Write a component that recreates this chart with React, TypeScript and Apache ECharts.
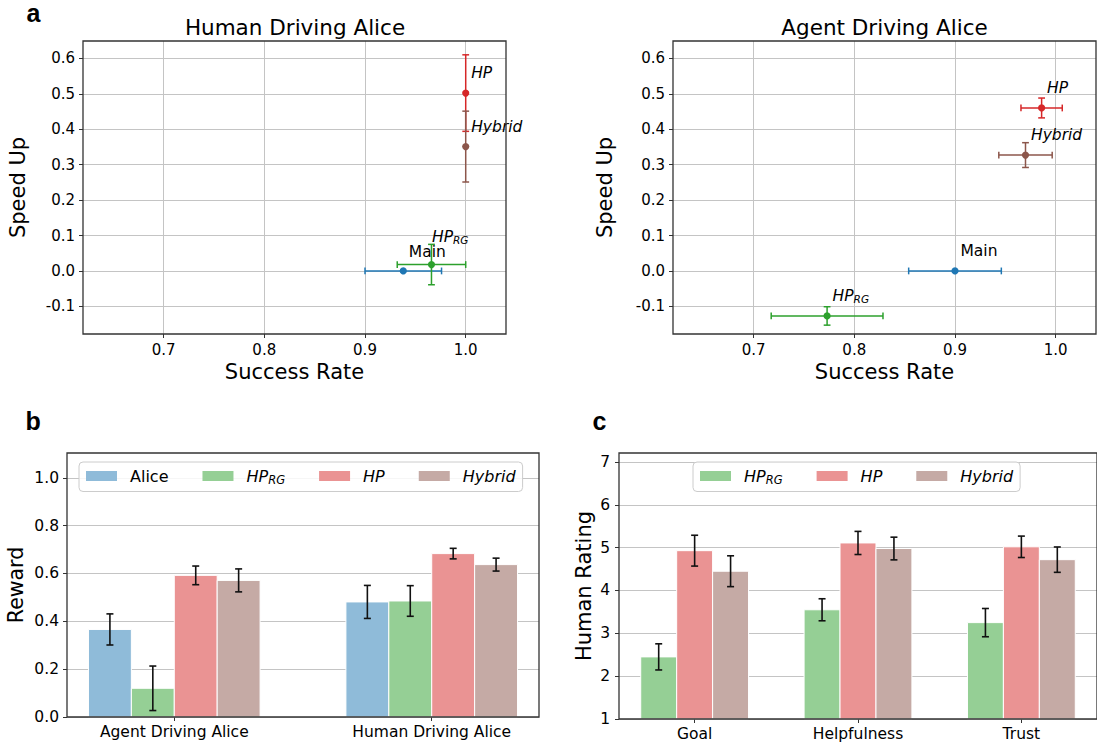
import React, { useEffect, useRef } from 'react';
import * as echarts from 'echarts';

const FONT = "'DejaVu Sans', 'Noto Sans', sans-serif";

// ---------------- data ----------------
// Panel a: success rate vs speed up (order: Main, HP_RG, HP, Hybrid)
const methodNames = ['Main', 'HP_RG', 'HP', 'Hybrid'];
const humanSuccessRate = [0.938, 0.966, 1.0, 1.0];
const humanSuccessRateErr = [0.038, 0.034, 0.0, 0.0];
const humanSpeedUp = [0.0, 0.018, 0.502, 0.351];
const humanSpeedUpErr = [0.0, 0.057, 0.108, 0.1];

const agentSuccessRate = [0.9, 0.773, 0.986, 0.97];
const agentSuccessRateErr = [0.046, 0.0555, 0.0205, 0.0265];
const agentSpeedUp = [0.0, -0.127, 0.46, 0.327];
const agentSpeedUpErr = [0.0, 0.026, 0.028, 0.035];

const successRateTicks = [0.7, 0.8, 0.9, 1.0];
const speedUpTicks = [-0.1, 0.0, 0.1, 0.2, 0.3, 0.4, 0.5, 0.6];

// Panel b: reward
const rewardCategories = ['Agent Driving Alice', 'Human Driving Alice'];
const rewardSeriesNames = ['Alice', 'HP_RG', 'HP', 'Hybrid'];
const rewardAlice = [0.366, 0.481];
const rewardAliceErr = [0.065, 0.069];
const rewardHPRG = [0.12, 0.485];
const rewardHPRGErr = [0.093, 0.064];
const rewardHP = [0.592, 0.683];
const rewardHPErr = [0.039, 0.022];
const rewardHybrid = [0.571, 0.637];
const rewardHybridErr = [0.048, 0.027];
const rewardTicks = [0, 0.2, 0.4, 0.6, 0.8, 1.0];

// Panel c: human rating
const ratingCategories = ['Goal', 'Helpfulness', 'Trust'];
const ratingSeriesNames = ['HP_RG', 'HP', 'Hybrid'];
const ratingHPRG = [2.45, 3.55, 3.25];
const ratingHPRGErr = [0.305, 0.257, 0.33];
const ratingHP = [4.93, 5.11, 5.02];
const ratingHPErr = [0.36, 0.27, 0.25];
const ratingHybrid = [4.45, 4.98, 4.72];
const ratingHybridErr = [0.36, 0.265, 0.296];
const ratingTicks = [1, 2, 3, 4, 5, 6, 7];

// ---------------- styles / layout ----------------
const lineColors: Record<string, string> = {
  Main: '#1f77b4',
  HP_RG: '#2ca02c',
  HP: '#d62728',
  Hybrid: '#8c564b',
};
const barColors: Record<string, string> = {
  Alice: '#8fbbd9',
  HP_RG: '#95cf95',
  HP: '#ea9393',
  Hybrid: '#c5aaa5',
};

const GRIDS = [
  { left: 83, top: 41, width: 423, height: 293 }, // a human
  { left: 673, top: 41, width: 423, height: 293 }, // a agent
  { left: 67, top: 453, width: 472, height: 264 }, // b
  { left: 619, top: 453, width: 478, height: 266 }, // c
];

const FRAME = '#333333';
const GRIDLINE = '#c4c4c4';

const richStyles = (size: number, subRatio = 0.68) => ({
  n: { fontSize: size, fontFamily: FONT, color: '#000' },
  i: { fontSize: size, fontFamily: FONT, fontStyle: 'italic', color: '#000' },
  s: {
    fontSize: size * subRatio,
    fontFamily: FONT,
    fontStyle: 'italic',
    color: '#000',
    padding: [Math.round(size * 0.45), 0, 0, 0],
  },
});

const richName = (name: string) => {
  if (name === 'HP_RG') return '{i|HP}{s|RG}';
  if (name === 'HP' || name === 'Hybrid') return `{i|${name}}`;
  return `{n|${name}}`;
};

const fmt1 = (v: number) => (Math.abs(v) < 1e-9 ? '0.0' : v.toFixed(1));

function valueAxis(gridIndex: number, min: number, max: number, ticks: number[], extra: any) {
  return {
    type: 'value',
    gridIndex,
    min,
    max,
    axisLine: { show: false, onZero: false },
    axisTick: { show: true, customValues: ticks, length: 4, lineStyle: { color: FRAME, width: 1 } },
    axisLabel: {
      customValues: ticks,
      color: '#000',
      fontFamily: FONT,
      fontSize: 15,
      margin: 8,
    },
    splitLine: { show: true, lineStyle: { color: GRIDLINE, width: 1 } },
    nameLocation: 'middle',
    nameTextStyle: { color: '#000', fontFamily: FONT, fontSize: 21 },
    ...extra,
  };
}

function scatterSeries(
  gridIndex: number,
  prefix: string,
  idx: number,
  xs: number[],
  xe: number[],
  ys: number[],
  ye: number[],
  labelOffset: [number, number]
) {
  const name = methodNames[idx];
  const color = lineColors[name];
  return {
    type: 'custom',
    name: `${prefix} ${name}`,
    xAxisIndex: gridIndex,
    yAxisIndex: gridIndex,
    clip: false,
    encode: { x: 0, y: 1 },
    data: [[xs[idx], ys[idx], xe[idx], ye[idx]]],
    renderItem: (_params: any, api: any) => {
      const x = api.value(0) as number;
      const y = api.value(1) as number;
      const ex = api.value(2) as number;
      const ey = api.value(3) as number;
      const c = api.coord([x, y]);
      const cap = 3.4;
      const ls = { stroke: color, lineWidth: 1.5 };
      const children: any[] = [];
      if (ex > 0) {
        const l = api.coord([x - ex, y]);
        const r = api.coord([x + ex, y]);
        children.push({ type: 'line', shape: { x1: l[0], y1: l[1], x2: r[0], y2: r[1] }, style: ls });
        children.push({ type: 'line', shape: { x1: l[0], y1: l[1] - cap, x2: l[0], y2: l[1] + cap }, style: ls });
        children.push({ type: 'line', shape: { x1: r[0], y1: r[1] - cap, x2: r[0], y2: r[1] + cap }, style: ls });
      }
      if (ey > 0) {
        const t = api.coord([x, y + ey]);
        const b = api.coord([x, y - ey]);
        children.push({ type: 'line', shape: { x1: t[0], y1: t[1], x2: b[0], y2: b[1] }, style: ls });
        children.push({ type: 'line', shape: { x1: t[0] - cap, y1: t[1], x2: t[0] + cap, y2: t[1] }, style: ls });
        children.push({ type: 'line', shape: { x1: b[0] - cap, y1: b[1], x2: b[0] + cap, y2: b[1] }, style: ls });
      }
      children.push({ type: 'circle', shape: { cx: c[0], cy: c[1], r: 3.6 }, style: { fill: color } });
      children.push({
        type: 'text',
        x: c[0] + labelOffset[0],
        y: c[1] + labelOffset[1],
        style: {
          text: richName(name),
          rich: richStyles(15.5),
          fontFamily: FONT,
          fontSize: 15.5,
          fill: '#000',
          align: 'left',
          verticalAlign: 'middle',
        },
      });
      return { type: 'group', children };
    },
  };
}

function barSeries(
  gridIndex: number,
  name: string,
  values: number[],
  errs: number[],
  offset: number,
  width: number,
  base: number
) {
  const fill = barColors[name];
  return {
    type: 'custom',
    name,
    xAxisIndex: gridIndex,
    yAxisIndex: gridIndex,
    itemStyle: { color: fill },
    encode: { x: 0, y: 1 },
    data: values.map((v, i) => [i, v, errs[i]]),
    renderItem: (_params: any, api: any) => {
      const cat = api.value(0) as number;
      const v = api.value(1) as number;
      const e = api.value(2) as number;
      const xc = cat + offset;
      const p0 = api.coord([xc - width / 2, base]);
      const p1 = api.coord([xc + width / 2, v]);
      const t = api.coord([xc, v + e]);
      const b = api.coord([xc, v - e]);
      const cap = 3.5;
      const es = { stroke: '#111', lineWidth: 1.6 };
      return {
        type: 'group',
        children: [
          {
            type: 'rect',
            shape: { x: p0[0], y: p1[1], width: p1[0] - p0[0], height: p0[1] - p1[1] },
            style: { fill, stroke: '#ffffff', lineWidth: 1 },
          },
          { type: 'line', shape: { x1: t[0], y1: t[1], x2: b[0], y2: b[1] }, style: es },
          { type: 'line', shape: { x1: t[0] - cap, y1: t[1], x2: t[0] + cap, y2: t[1] }, style: es },
          { type: 'line', shape: { x1: b[0] - cap, y1: b[1], x2: b[0] + cap, y2: b[1] }, style: es },
        ],
      };
    },
  };
}

function legendFor(left: number, names: string[]) {
  return {
    left,
    top: 462,
    orient: 'horizontal',
    selectedMode: false,
    data: names,
    icon: 'rect',
    itemWidth: 31,
    itemHeight: 10,
    itemGap: 34,
    padding: [6, 7, 6, 7],
    backgroundColor: 'rgba(255,255,255,0.85)',
    borderColor: '#cccccc',
    borderWidth: 1,
    borderRadius: 4,
    formatter: (n: string) => richName(n),
    textStyle: {
      color: '#000',
      fontFamily: FONT,
      fontSize: 16,
      padding: [0, 0, 0, 8],
      rich: richStyles(16, 0.72),
    },
  };
}

export default function App() {
  const ref = useRef<HTMLDivElement>(null);

  useEffect(() => {
    if (!ref.current) return;
    const chart = echarts.init(ref.current, undefined, { renderer: 'svg' });

    const xMinA = 0.62;
    const xMaxA = 1.04;
    const yMinA = -0.178;
    const yMaxA = 0.649;

    const rewardW = 1 / 6;
    const ratingW = 0.22;

    const rewardVals = [rewardAlice, rewardHPRG, rewardHP, rewardHybrid];
    const rewardErrs = [rewardAliceErr, rewardHPRGErr, rewardHPErr, rewardHybridErr];
    const ratingVals = [ratingHPRG, ratingHP, ratingHybrid];
    const ratingErrs = [ratingHPRGErr, ratingHPErr, ratingHybridErr];

    const defaultOffset: [number, number] = [5.5, -20];
    const humanOffsets: [number, number][] = [[5.5, -19], [0.5, -28], defaultOffset, defaultOffset];

    const series: any[] = [];
    methodNames.forEach((_, i) => {
      series.push(
        scatterSeries(0, 'Human', i, humanSuccessRate, humanSuccessRateErr, humanSpeedUp, humanSpeedUpErr, humanOffsets[i])
      );
    });
    methodNames.forEach((_, i) => {
      series.push(
        scatterSeries(1, 'Agent', i, agentSuccessRate, agentSuccessRateErr, agentSpeedUp, agentSpeedUpErr, defaultOffset)
      );
    });
    rewardSeriesNames.forEach((n, i) => {
      series.push(barSeries(2, n, rewardVals[i], rewardErrs[i], (i - 1.5) * rewardW, rewardW, 0));
    });
    ratingSeriesNames.forEach((n, i) => {
      series.push(barSeries(3, n, ratingVals[i], ratingErrs[i], (i - 1) * ratingW, ratingW, 1));
    });

    const frames = GRIDS.map((g) => ({
      type: 'rect',
      z: 50,
      silent: true,
      shape: { x: g.left, y: g.top, width: g.width, height: g.height },
      style: { fill: 'none', stroke: FRAME, lineWidth: 1.3 },
    }));

    const texts = [
      { text: 'Human Driving Alice', x: 295, y: 27, align: 'center' },
      { text: 'Agent Driving Alice', x: 884.5, y: 27, align: 'center' },
    ].map((t) => ({
      type: 'text',
      z: 60,
      x: t.x,
      y: t.y,
      style: {
        text: t.text,
        fill: '#000',
        fontFamily: FONT,
        fontSize: 21.5,
        align: t.align,
        verticalAlign: 'middle',
      },
    }));

    const letters = [
      { text: 'a', x: 26.5, y: 12.5 },
      { text: 'b', x: 25.5, y: 421 },
      { text: 'c', x: 592.5, y: 421 },
    ].map((t) => ({
      type: 'text',
      z: 60,
      x: t.x,
      y: t.y,
      style: {
        text: t.text,
        fill: '#000',
        fontFamily: "'Liberation Sans', Arial, sans-serif",
        fontWeight: 'bold',
        fontSize: 25,
        lineHeight: 22,
        align: 'left',
        verticalAlign: 'middle',
      },
    }));

    const option: any = {
      animation: false,
      backgroundColor: '#ffffff',
      grid: GRIDS.map((g) => ({ ...g, containLabel: false })),
      legend: [legendFor(79, rewardSeriesNames), legendFor(693, ratingSeriesNames)],
      xAxis: [
        valueAxis(0, xMinA, xMaxA, successRateTicks, {
          name: 'Success Rate',
          nameGap: 27,
          axisLabel: {
            customValues: successRateTicks,
            formatter: (v: number) => fmt1(v),
            color: '#000',
            fontFamily: FONT,
            fontSize: 15,
            margin: 8,
          },
        }),
        valueAxis(1, xMinA, xMaxA, successRateTicks, {
          name: 'Success Rate',
          nameGap: 27,
          axisLabel: {
            customValues: successRateTicks,
            formatter: (v: number) => fmt1(v),
            color: '#000',
            fontFamily: FONT,
            fontSize: 15,
            margin: 8,
          },
        }),
        valueAxis(2, -0.4167, 1.4167, [0, 1], {
          splitLine: { show: false },
          axisLabel: {
            customValues: [0, 1],
            formatter: (v: number) => rewardCategories[Math.round(v)],
            color: '#000',
            fontFamily: FONT,
            fontSize: 15.5,
            margin: 7,
          },
        }),
        valueAxis(3, -0.463, 2.463, [0, 1, 2], {
          splitLine: { show: false },
          axisLabel: {
            customValues: [0, 1, 2],
            formatter: (v: number) => ratingCategories[Math.round(v)],
            color: '#000',
            fontFamily: FONT,
            fontSize: 15.5,
            margin: 7,
          },
        }),
      ],
      yAxis: [
        valueAxis(0, yMinA, yMaxA, speedUpTicks, {
          name: 'Speed Up',
          nameGap: 55,
          axisLabel: {
            customValues: speedUpTicks,
            formatter: (v: number) => fmt1(v),
            color: '#000',
            fontFamily: FONT,
            fontSize: 15,
            margin: 8,
          },
        }),
        valueAxis(1, yMinA, yMaxA, speedUpTicks, {
          name: 'Speed Up',
          nameGap: 58,
          axisLabel: {
            customValues: speedUpTicks,
            formatter: (v: number) => fmt1(v),
            color: '#000',
            fontFamily: FONT,
            fontSize: 15,
            margin: 8,
          },
        }),
        valueAxis(2, 0, 1.1035, rewardTicks, {
          name: 'Reward',
          nameGap: 41,
          nameTextStyle: { color: '#000', fontFamily: FONT, fontSize: 20.5 },
          axisLabel: {
            customValues: rewardTicks,
            formatter: (v: number) => fmt1(v),
            color: '#000',
            fontFamily: FONT,
            fontSize: 15.5,
            margin: 8,
          },
        }),
        valueAxis(3, 1, 7.21, ratingTicks, {
          name: 'Human Rating',
          nameGap: 25,
          axisLabel: {
            customValues: ratingTicks,
            formatter: (v: number) => String(Math.round(v)),
            color: '#000',
            fontFamily: FONT,
            fontSize: 15.5,
            margin: 9,
          },
        }),
      ],
      graphic: [...frames, ...texts, ...letters],
      series,
    };

    chart.setOption(option);
    return () => {
      chart.dispose();
    };
  }, []);

  return (
    <div
      ref={ref}
      style={{ position: 'absolute', left: 0, top: 0, width: 1097, height: 746, background: '#fff' }}
    />
  );
}
